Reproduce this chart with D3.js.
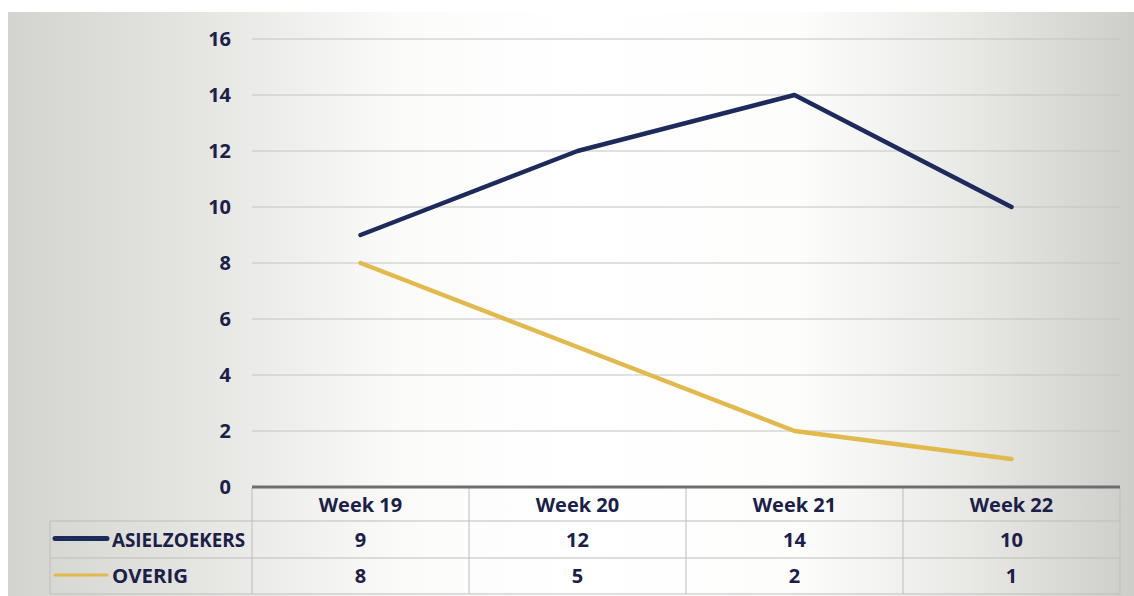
<!DOCTYPE html>
<html>
<head>
    <meta charset="utf-8">
    <style>
        body { margin: 0; background: #fff; }
        text { font-family: "Open Sans", "Lato", sans-serif; font-weight: 700; fill: #1b2048; }
        line.grid { stroke: #c4c4c4; stroke-width: 1.2px; }
        line.cell { stroke: #bdbdbd; stroke-width: 1px; }
    </style>
</head>
<body>
<div id="chart"></div>
<script src="https://cdn.jsdelivr.net/npm/d3@7"></script>
<script>

    var weeks = ["Week 19", "Week 20", "Week 21", "Week 22"];
    var asielzoekers = [9, 12, 14, 10];
    var overig = [8, 5, 2, 1];
    var yTicks = [0, 2, 4, 6, 8, 10, 12, 14, 16];

    var series = [
        {name: "ASIELZOEKERS", values: asielzoekers, color: "#1d2b5c"},
        {name: "OVERIG", values: overig, color: "#e1b94c"}
    ];

    var width = 1134, height = 596;
    var plotLeft = 252, plotRight = 1120, plotTop = 39, plotBottom = 487;
    var tableLeft = 50, rowH = [488, 521, 558, 594];

    var svg = d3.select("#chart").append("svg")
        .attr("width", width)
        .attr("height", height);

    // scanned paper look
    var defs = svg.append("defs");
    var grad = defs.append("linearGradient").attr("id", "paper");
    [[0, "#d3d3cf"], [0.18, "#e6e6e3"], [0.35, "#fbfbfa"], [0.5, "#ffffff"],
        [0.7, "#fdfdfc"], [0.85, "#e9e9e6"], [1, "#cdcdc9"]].forEach(function (s) {
        grad.append("stop").attr("offset", s[0]).attr("stop-color", s[1]);
    });
    svg.append("rect").attr("x", 8).attr("y", 12)
        .attr("width", width - 8).attr("height", height - 12)
        .attr("fill", "url(#paper)");

    var x = d3.scaleBand().domain(weeks).range([plotLeft, plotRight]);
    var y = d3.scaleLinear().domain([0, 16]).range([plotBottom, plotTop]);

    // gridlines
    svg.append("g").selectAll("line")
        .data(yTicks.slice(1))
        .enter().append("line")
        .attr("class", "grid")
        .attr("x1", plotLeft).attr("x2", plotRight)
        .attr("y1", function (d) { return y(d); })
        .attr("y2", function (d) { return y(d); });

    // y axis labels
    var yAxis = d3.axisLeft(y).tickValues(yTicks).tickSize(0).tickPadding(0);
    var yg = svg.append("g").attr("transform", "translate(231,0)").call(yAxis);
    yg.select(".domain").remove();
    yg.selectAll("text")
        .attr("fill", "#1b2048")
        .style("font-size", "20px")
        .style("font-family", "\"Open Sans\", sans-serif")
        .style("font-weight", "700");

    // data table
    var table = svg.append("g");
    [1, 2, 3].forEach(function (r) {
        table.append("line").attr("class", "cell")
            .attr("x1", tableLeft).attr("x2", plotRight)
            .attr("y1", rowH[r]).attr("y2", rowH[r]);
    });
    table.append("line").attr("class", "cell")
        .attr("x1", tableLeft).attr("x2", tableLeft).attr("y1", rowH[1]).attr("y2", rowH[3]);
    table.selectAll("line.vert")
        .data(weeks.concat(["end"]))
        .enter().append("line")
        .attr("class", "cell")
        .attr("x1", function (d) { return d === "end" ? plotRight : x(d); })
        .attr("x2", function (d) { return d === "end" ? plotRight : x(d); })
        .attr("y1", rowH[0]).attr("y2", rowH[3]);

    table.selectAll("text.head")
        .data(weeks)
        .enter().append("text")
        .attr("x", function (d) { return x(d) + x.bandwidth() / 2; })
        .attr("y", (rowH[0] + rowH[1]) / 2 + 7)
        .attr("text-anchor", "middle")
        .style("font-size", "20px")
        .text(function (d) { return d; });

    series.forEach(function (s, i) {
        var cy = (rowH[i + 1] + rowH[i + 2]) / 2;
        table.append("line")
            .attr("x1", 55).attr("x2", 107)
            .attr("y1", cy - 1).attr("y2", cy - 1)
            .attr("stroke", s.color)
            .attr("stroke-width", i === 0 ? 5 : 3)
            .attr("stroke-linecap", "round");
        table.append("text")
            .attr("x", 112).attr("y", cy + 7)
            .style("font-size", "20px")
            .attr("textLength", i === 0 ? 133 : 76)
            .attr("lengthAdjust", "spacingAndGlyphs")
            .text(s.name);
        table.selectAll("text.v" + i)
            .data(s.values)
            .enter().append("text")
            .attr("x", function (d, j) { return x(weeks[j]) + x.bandwidth() / 2; })
            .attr("y", cy + 7)
            .attr("text-anchor", "middle")
            .style("font-size", "20px")
            .text(function (d) { return d; });
    });

    // zero axis
    svg.append("line")
        .attr("x1", plotLeft).attr("x2", plotRight)
        .attr("y1", y(0)).attr("y2", y(0))
        .attr("stroke", "#6e6e6e").attr("stroke-width", 3);

    // series lines
    var line = d3.line()
        .x(function (d, j) { return x(weeks[j]) + x.bandwidth() / 2; })
        .y(function (d) { return y(d); });

    svg.selectAll("path.series")
        .data(series.slice().reverse())
        .enter().append("path")
        .attr("class", "series")
        .attr("d", function (s) { return line(s.values); })
        .attr("fill", "none")
        .attr("stroke", function (s) { return s.color; })
        .attr("stroke-width", 4.5)
        .attr("stroke-linecap", "round")
        .attr("stroke-linejoin", "round");

</script>
</body>
</html>
